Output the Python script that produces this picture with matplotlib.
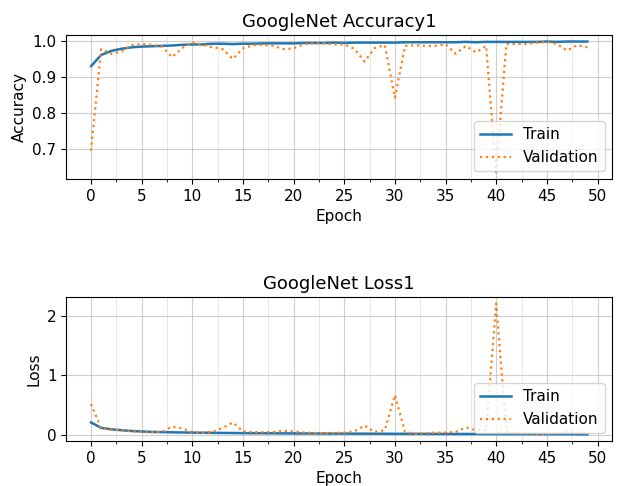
import matplotlib
matplotlib.use('Agg')
import matplotlib.pyplot as plt
from matplotlib.ticker import MultipleLocator

epochs = list(range(50))

train_acc = [0.930, 0.961, 0.972, 0.978, 0.982, 0.984, 0.985, 0.986, 0.987, 0.989,
             0.990, 0.990, 0.992, 0.992, 0.991, 0.992, 0.992, 0.993, 0.993, 0.993,
             0.993, 0.994, 0.994, 0.994, 0.995, 0.994, 0.995, 0.995, 0.995, 0.995,
             0.995, 0.996, 0.996, 0.996, 0.996, 0.996, 0.996, 0.997, 0.996, 0.997,
             0.997, 0.997, 0.997, 0.997, 0.997, 0.998, 0.997, 0.998, 0.998, 0.998]
val_acc = [0.697, 0.977, 0.964, 0.970, 0.988, 0.991, 0.989, 0.984, 0.955, 0.980,
           0.995, 0.989, 0.982, 0.977, 0.950, 0.979, 0.988, 0.989, 0.986, 0.977,
           0.979, 0.991, 0.993, 0.993, 0.990, 0.990, 0.978, 0.943, 0.980, 0.988,
           0.843, 0.986, 0.988, 0.986, 0.986, 0.991, 0.964, 0.986, 0.968, 0.986,
           0.637, 0.991, 0.991, 0.991, 0.995, 0.997, 0.991, 0.973, 0.988, 0.982]

train_loss = [0.210, 0.120, 0.095, 0.080, 0.067, 0.058, 0.052, 0.048, 0.045, 0.042,
              0.040, 0.038, 0.036, 0.034, 0.033, 0.031, 0.030, 0.029, 0.028, 0.027,
              0.026, 0.025, 0.025, 0.024, 0.023, 0.023, 0.022, 0.022, 0.021, 0.021,
              0.020, 0.020, 0.019, 0.019, 0.018, 0.018, 0.017, 0.017, 0.016, 0.016,
              0.016, 0.015, 0.015, 0.014, 0.014, 0.013, 0.013, 0.013, 0.012, 0.012]
val_loss = [0.520, 0.110, 0.090, 0.080, 0.060, 0.050, 0.045, 0.050, 0.140, 0.110,
            0.050, 0.040, 0.050, 0.120, 0.210, 0.060, 0.050, 0.045, 0.050, 0.070,
            0.060, 0.040, 0.035, 0.030, 0.035, 0.040, 0.060, 0.160, 0.050, 0.080,
            0.670, 0.050, 0.020, 0.030, 0.040, 0.040, 0.050, 0.130, 0.080, 0.070,
            2.210, 0.050, 0.030, 0.030, 0.020, 0.020, 0.030, 0.060, 0.040, 0.050]

plt.rcParams['font.size'] = 11

fig = plt.figure(figsize=(6.19, 4.86), dpi=100)
ax1 = fig.add_axes([0.107, 0.632, 0.882, 0.296])
ax2 = fig.add_axes([0.107, 0.093, 0.882, 0.296])

for ax, tr, va, title, ylab in [(ax1, train_acc, val_acc, 'GoogleNet Accuracy1', 'Accuracy'),
                                (ax2, train_loss, val_loss, 'GoogleNet Loss1', 'Loss')]:
    ax.plot(epochs, tr, '-', color='tab:blue', linewidth=1.8, label='Train')
    ax.plot(epochs, va, ':', color='tab:orange', linewidth=1.6, label='Validation')
    ax.set_title(title, fontsize=13)
    ax.set_xlabel('Epoch')
    ax.set_ylabel(ylab)
    ax.xaxis.set_major_locator(MultipleLocator(5))
    ax.xaxis.set_minor_locator(MultipleLocator(2.5))
    ax.grid(True, which='major', color='#b0b0b0', alpha=0.6, linewidth=0.8)
    ax.grid(True, which='minor', axis='x', color='#c8c8c8', alpha=0.5, linewidth=0.6)
    ax.legend(loc='lower right', fontsize=11)

ax2.yaxis.set_major_locator(MultipleLocator(1))

plt.savefig('out.png', dpi=100)
